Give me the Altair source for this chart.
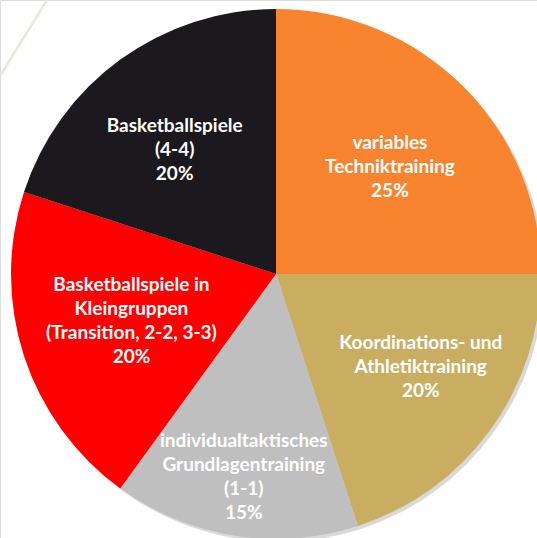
import altair as alt
import pandas as pd

# --- data ---
categories = [
    "variables\nTechniktraining",
    "Koordinations- und\nAthletiktraining",
    "individualtaktisches\nGrundlagentraining\n(1-1)",
    "Basketballspiele in\nKleingruppen\n(Transition, 2-2, 3-3)",
    "Basketballspiele\n(4-4)",
]
shares = [25, 20, 15, 20, 20]
colors = ["#F8842F", "#C9AE62", "#BFBFBF", "#FF0000", "#1B191D"]

# layout only: label block distance from the pie centre (px) and angular nudge (deg)
label_radius = [156, 172, 206, 152, 160]
label_nudge_deg = [1.9, -3.3, 0.0, 0.0, -3.3]

df = pd.DataFrame({
    "category": categories,
    "value": shares,
    "order": list(range(len(categories))),
})
df["label"] = [f"{c}\n{v}%" for c, v in zip(categories, shares)]
df["nlines"] = df["label"].str.count("\n") + 1
df["lr"] = label_radius
df["nudge"] = [d / 3.6 for d in label_nudge_deg]

CX, CY, R = 276, 274, 265
LH = 24
theta_scale = alt.Scale(domain=[0, 100], range=[0, 6.283185307179586])

base = alt.Chart(df)

shadow = base.mark_arc(radius=R, color="#000000", opacity=0.15).encode(
    theta=alt.Theta("value:Q", stack=True, scale=theta_scale),
    order=alt.Order("order:Q"),
    x=alt.value(CX + 3),
    y=alt.value(CY + 3),
)

pie = base.mark_arc(radius=R).encode(
    theta=alt.Theta("value:Q", stack=True, scale=theta_scale),
    color=alt.Color(
        "category:N",
        scale=alt.Scale(domain=categories, range=colors),
        legend=None,
    ),
    order=alt.Order("order:Q"),
    x=alt.value(CX),
    y=alt.value(CY),
)

label_base = base.transform_window(
    cum="sum(value)", sort=[alt.SortField("order")]
).transform_calculate(
    mid="datum.cum - datum.value / 2 + datum.nudge"
)

label_layers = []
for n in sorted(df["nlines"].unique()):
    label_layers.append(
        label_base.transform_filter(alt.datum.nlines == int(n)).mark_text(
            font="Lato",
            fontWeight="bold",
            fontSize=19,
            lineHeight=LH,
            lineBreak="\n",
            color="white",
            align="center",
            baseline="middle",
            dy=-(int(n) - 1) * LH / 2,
        ).encode(
            theta=alt.Theta("mid:Q", stack=None, scale=theta_scale),
            radius=alt.Radius("lr:Q", scale=None),
            text="label:N",
            x=alt.value(CX),
            y=alt.value(CY),
        )
    )

deco = alt.Chart(alt.Data(values=[{"d": 1}])).mark_rule(
    color="#EDE6D8", strokeWidth=2.5
).encode(
    x=alt.value(0), y=alt.value(76), x2=alt.value(47), y2=alt.value(0)
)

chart = alt.layer(deco, shadow, pie, *label_layers).properties(
    width=537,
    height=538,
    padding=0,
    autosize=alt.AutoSizeParams(type="none"),
).configure_view(stroke=None).configure(background="white")

chart.save("out.html", embed_options={"renderer": "svg", "actions": False})
